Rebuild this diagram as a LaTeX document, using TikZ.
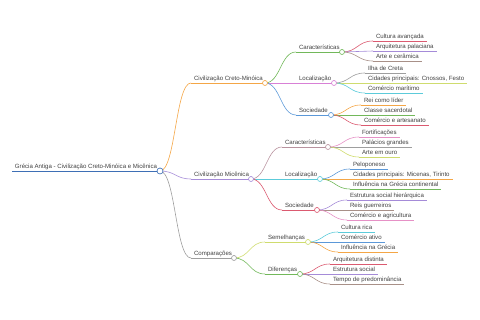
\documentclass[tikz,border=0pt]{standalone}
\usepackage{fontspec}
\setmainfont{Liberation Sans}
\usetikzlibrary{calc}
\definecolor{txt}{HTML}{404040}
\definecolor{cRoot}{HTML}{3E6FB5}
\definecolor{cOrange}{HTML}{F4A646}
\definecolor{cPurple}{HTML}{A58BD8}
\definecolor{cGrey}{HTML}{9E9E9E}
\definecolor{cGreen}{HTML}{72B85A}
\definecolor{cMagenta}{HTML}{D880D6}
\definecolor{cBlue}{HTML}{5B98D8}
\definecolor{cMauve}{HTML}{B8929E}
\definecolor{cCyan}{HTML}{5CCBDA}
\definecolor{cRed}{HTML}{DB5A70}
\definecolor{cYellow}{HTML}{CFDC6E}
\definecolor{cPink}{HTML}{E691C6}
\definecolor{cBrown}{HTML}{A89088}
\tikzset{
  lbl/.style={font=\fontsize{6.1}{7}\selectfont, text=txt, inner xsep=3pt, inner ysep=0.8pt,
    text height=4.6pt, text depth=1.4pt, anchor=south west, outer sep=0pt},
  dot/.style={circle, fill=white, minimum size=5pt, inner sep=0pt, line width=0.65pt},
  ln/.style={line width=0.6pt},
}
% connector from parent dot to child node
\newcommand\conn[3]{%
  \draw[ln,#3] let \p1=(#1.center), \p2=(#2.south west) in
    (\p1) .. controls ({(\x1+\x2)/2},\y1) and ({(\x1+\x2)/2},\y2) .. (\p2);}
% leaf: parent, name, X, U, colour, text
\newcommand\leafnode[6]{%
  \node[lbl] (#2) at ({#3-3},#4) {#6};
  \conn{#1}{#2}{#5}
  \draw[ln,#5] (#2.south west) -- (#2.south east);}
% inner: parent, name, X, U, colour, text, dotX
\newcommand\innernode[7]{%
  \node[lbl] (#2) at ({#3-3},#4) {#6};
  \coordinate (#2d) at (#7,#4);
  \conn{#1}{#2}{#5}
  \draw[ln,#5] (#2.south west) -- (#2d);}
\newcommand\putdot[2]{\node[dot,draw=#2] (#1c) at (#1d) {};}
\begin{document}
\begin{tikzpicture}[x=1pt,y=-1pt]
\useasboundingbox (0,0) rectangle (480,320);
% root
\node[lbl] (root) at (12,171) {Grécia Antiga - Civilização Creto-Minóica e Micênica};
\coordinate (rootd) at (160,171);
\draw[line width=0.9pt,cRoot] (root.south west) -- (rootd);
% level 1
\innernode{rootd}{A}{194}{83}{cOrange}{Civilização Creto-Minóica}{265}
\innernode{rootd}{B}{194}{179}{cPurple}{Civilização Micênica}{251}
\innernode{rootd}{C}{194}{258}{cGrey}{Comparações}{234}
% level 2
\innernode{Ad}{Aa}{299}{52}{cGreen}{Características}{342}
\innernode{Ad}{Ab}{299}{83}{cMagenta}{Localização}{334}
\innernode{Ad}{Ac}{299}{115}{cBlue}{Sociedade}{331}
\innernode{Bd}{Ba}{285}{147}{cMauve}{Características}{328}
\innernode{Bd}{Bb}{285}{179}{cCyan}{Localização}{320}
\innernode{Bd}{Bc}{285}{210}{cRed}{Sociedade}{317}
\innernode{Cd}{Ca}{268}{242}{cYellow}{Semelhanças}{308}
\innernode{Cd}{Cb}{268}{274}{cGreen}{Diferenças}{300}
% leaves
\leafnode{Aad}{Aa1}{376}{41}{cRed}{Cultura avançada}
\leafnode{Aad}{Aa2}{376}{51}{cPurple}{Arquitetura palaciana}
\leafnode{Aad}{Aa3}{376}{61}{cBrown}{Arte e cerâmica}
\leafnode{Abd}{Ab1}{368}{73}{cGrey}{Ilha de Creta}
\leafnode{Abd}{Ab2}{368}{83}{cYellow}{Cidades principais: Cnossos, Festo}
\leafnode{Abd}{Ab3}{368}{93}{cCyan}{Comércio marítimo}
\leafnode{Acd}{Ac1}{364}{105}{cOrange}{Rei como líder}
\leafnode{Acd}{Ac2}{364}{115}{cGreen}{Classe sacerdotal}
\leafnode{Acd}{Ac3}{364}{125}{cRed}{Comércio e artesanato}
\leafnode{Bad}{Ba1}{362}{137}{cPink}{Fortificações}
\leafnode{Bad}{Ba2}{362}{147}{cGrey}{Palácios grandes}
\leafnode{Bad}{Ba3}{362}{157}{cYellow}{Arte em ouro}
\leafnode{Bbd}{Bb1}{353}{169}{cBlue}{Peloponeso}
\leafnode{Bbd}{Bb2}{353}{179}{cOrange}{Cidades principais: Micenas, Tirinto}
\leafnode{Bbd}{Bb3}{353}{189}{cGreen}{Influência na Grécia continental}
\leafnode{Bcd}{Bc1}{350}{200}{cPurple}{Estrutura social hierárquica}
\leafnode{Bcd}{Bc2}{350}{210}{cBrown}{Reis guerreiros}
\leafnode{Bcd}{Bc3}{350}{220}{cPink}{Comércio e agricultura}
\leafnode{Cad}{Ca1}{341}{232}{cCyan}{Cultura rica}
\leafnode{Cad}{Ca2}{341}{242}{cBlue}{Comércio ativo}
\leafnode{Cad}{Ca3}{341}{252}{cOrange}{Influência na Grécia}
\leafnode{Cbd}{Cb1}{333}{264}{cRed}{Arquitetura distinta}
\leafnode{Cbd}{Cb2}{333}{274}{cPurple}{Estrutura social}
\leafnode{Cbd}{Cb3}{333}{284}{cBrown}{Tempo de predominância}
% dots on top
\node[dot,draw=cRoot,minimum size=6pt] (rootc) at (rootd) {};
\putdot{A}{cOrange}
\putdot{B}{cPurple}
\putdot{C}{cGrey}
\putdot{Aa}{cGreen}
\putdot{Ab}{cMagenta}
\putdot{Ac}{cBlue}
\putdot{Ba}{cMauve}
\putdot{Bb}{cCyan}
\putdot{Bc}{cRed}
\putdot{Ca}{cYellow}
\putdot{Cb}{cGreen}
\end{tikzpicture}
\end{document}
